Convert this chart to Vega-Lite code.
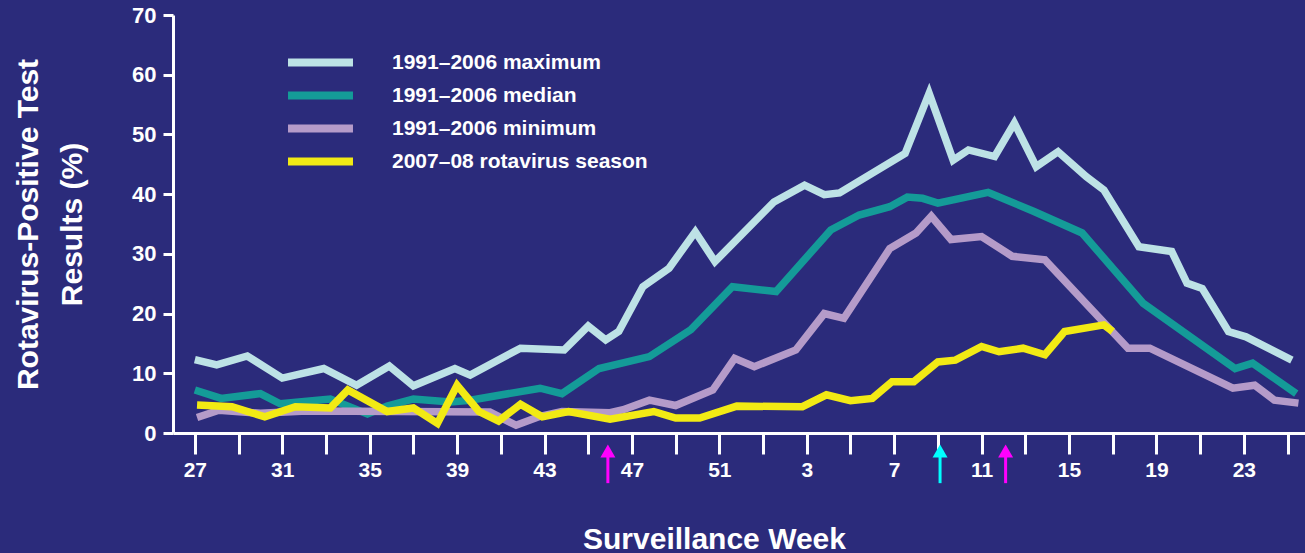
{
  "$schema": "https://vega.github.io/schema/vega-lite/v6.json",
  "width": 1132,
  "height": 418,
  "autosize": {"type": "none"},
  "padding": {"left": 173, "top": 15, "right": 0, "bottom": 120},
  "background": "#2b2b7b",
  "config": {"view": {"stroke": null}, "font": "Liberation Sans"},
  "datasets": {
    "series": [
      {"series": "1991–2006 maximum", "wk": 0, "pct": 12.3},
      {"series": "1991–2006 maximum", "wk": 1, "pct": 11.4},
      {"series": "1991–2006 maximum", "wk": 2.4, "pct": 12.9},
      {"series": "1991–2006 maximum", "wk": 4, "pct": 9.2},
      {"series": "1991–2006 maximum", "wk": 5.9, "pct": 10.8},
      {"series": "1991–2006 maximum", "wk": 7.4, "pct": 8.0},
      {"series": "1991–2006 maximum", "wk": 8.9, "pct": 11.2},
      {"series": "1991–2006 maximum", "wk": 10, "pct": 7.9},
      {"series": "1991–2006 maximum", "wk": 11.9, "pct": 10.8},
      {"series": "1991–2006 maximum", "wk": 12.6, "pct": 9.7},
      {"series": "1991–2006 maximum", "wk": 14.9, "pct": 14.2},
      {"series": "1991–2006 maximum", "wk": 16.9, "pct": 13.9},
      {"series": "1991–2006 maximum", "wk": 18, "pct": 17.9},
      {"series": "1991–2006 maximum", "wk": 18.8, "pct": 15.6},
      {"series": "1991–2006 maximum", "wk": 19.4, "pct": 17.0},
      {"series": "1991–2006 maximum", "wk": 20.5, "pct": 24.5},
      {"series": "1991–2006 maximum", "wk": 21.7, "pct": 27.6},
      {"series": "1991–2006 maximum", "wk": 22.9, "pct": 33.7},
      {"series": "1991–2006 maximum", "wk": 23.8, "pct": 28.7},
      {"series": "1991–2006 maximum", "wk": 26.5, "pct": 38.7},
      {"series": "1991–2006 maximum", "wk": 27.9, "pct": 41.5},
      {"series": "1991–2006 maximum", "wk": 28.8, "pct": 39.9},
      {"series": "1991–2006 maximum", "wk": 29.5, "pct": 40.2},
      {"series": "1991–2006 maximum", "wk": 32.5, "pct": 46.8},
      {"series": "1991–2006 maximum", "wk": 33.6, "pct": 56.9},
      {"series": "1991–2006 maximum", "wk": 34.7, "pct": 45.7},
      {"series": "1991–2006 maximum", "wk": 35.4, "pct": 47.4},
      {"series": "1991–2006 maximum", "wk": 36.6, "pct": 46.3},
      {"series": "1991–2006 maximum", "wk": 37.5, "pct": 51.9},
      {"series": "1991–2006 maximum", "wk": 38.5, "pct": 44.6},
      {"series": "1991–2006 maximum", "wk": 39.5, "pct": 47.1},
      {"series": "1991–2006 maximum", "wk": 40.8, "pct": 42.9},
      {"series": "1991–2006 maximum", "wk": 41.6, "pct": 40.7},
      {"series": "1991–2006 maximum", "wk": 43.2, "pct": 31.2},
      {"series": "1991–2006 maximum", "wk": 44.7, "pct": 30.4},
      {"series": "1991–2006 maximum", "wk": 45.4, "pct": 25.1},
      {"series": "1991–2006 maximum", "wk": 46.1, "pct": 24.2},
      {"series": "1991–2006 maximum", "wk": 47.3, "pct": 17.0},
      {"series": "1991–2006 maximum", "wk": 48.1, "pct": 16.1},
      {"series": "1991–2006 maximum", "wk": 50.2, "pct": 12.2},

      {"series": "1991–2006 median", "wk": 0, "pct": 7.2},
      {"series": "1991–2006 median", "wk": 1.2, "pct": 5.8},
      {"series": "1991–2006 median", "wk": 3, "pct": 6.6},
      {"series": "1991–2006 median", "wk": 3.9, "pct": 4.9},
      {"series": "1991–2006 median", "wk": 6.2, "pct": 5.7},
      {"series": "1991–2006 median", "wk": 7.9, "pct": 3.2},
      {"series": "1991–2006 median", "wk": 8.8, "pct": 4.5},
      {"series": "1991–2006 median", "wk": 10, "pct": 5.7},
      {"series": "1991–2006 median", "wk": 11.7, "pct": 5.2},
      {"series": "1991–2006 median", "wk": 12.6, "pct": 5.5},
      {"series": "1991–2006 median", "wk": 15.8, "pct": 7.5},
      {"series": "1991–2006 median", "wk": 16.8, "pct": 6.6},
      {"series": "1991–2006 median", "wk": 18.5, "pct": 10.8},
      {"series": "1991–2006 median", "wk": 20.8, "pct": 12.8},
      {"series": "1991–2006 median", "wk": 22.7, "pct": 17.3},
      {"series": "1991–2006 median", "wk": 24.6, "pct": 24.5},
      {"series": "1991–2006 median", "wk": 26.6, "pct": 23.7},
      {"series": "1991–2006 median", "wk": 29.1, "pct": 34.0},
      {"series": "1991–2006 median", "wk": 30.4, "pct": 36.5},
      {"series": "1991–2006 median", "wk": 31.8, "pct": 37.9},
      {"series": "1991–2006 median", "wk": 32.6, "pct": 39.5},
      {"series": "1991–2006 median", "wk": 33.3, "pct": 39.3},
      {"series": "1991–2006 median", "wk": 34.0, "pct": 38.5},
      {"series": "1991–2006 median", "wk": 36.3, "pct": 40.3},
      {"series": "1991–2006 median", "wk": 38.4, "pct": 37.1},
      {"series": "1991–2006 median", "wk": 40.6, "pct": 33.5},
      {"series": "1991–2006 median", "wk": 43.4, "pct": 21.7},
      {"series": "1991–2006 median", "wk": 47.6, "pct": 10.8},
      {"series": "1991–2006 median", "wk": 48.4, "pct": 11.7},
      {"series": "1991–2006 median", "wk": 50.4, "pct": 6.6},

      {"series": "1991–2006 minimum", "wk": 0.1, "pct": 2.6},
      {"series": "1991–2006 minimum", "wk": 1.1, "pct": 3.8},
      {"series": "1991–2006 minimum", "wk": 3, "pct": 3.3},
      {"series": "1991–2006 minimum", "wk": 5.1, "pct": 3.7},
      {"series": "1991–2006 minimum", "wk": 13.5, "pct": 3.5},
      {"series": "1991–2006 minimum", "wk": 14.7, "pct": 1.3},
      {"series": "1991–2006 minimum", "wk": 15.8, "pct": 2.8},
      {"series": "1991–2006 minimum", "wk": 16.8, "pct": 3.6},
      {"series": "1991–2006 minimum", "wk": 19, "pct": 3.4},
      {"series": "1991–2006 minimum", "wk": 19.6, "pct": 3.9},
      {"series": "1991–2006 minimum", "wk": 20.8, "pct": 5.5},
      {"series": "1991–2006 minimum", "wk": 22, "pct": 4.6},
      {"series": "1991–2006 minimum", "wk": 23.7, "pct": 7.2},
      {"series": "1991–2006 minimum", "wk": 24.7, "pct": 12.5},
      {"series": "1991–2006 minimum", "wk": 25.6, "pct": 11.1},
      {"series": "1991–2006 minimum", "wk": 27.5, "pct": 13.9},
      {"series": "1991–2006 minimum", "wk": 28.8, "pct": 20.0},
      {"series": "1991–2006 minimum", "wk": 29.7, "pct": 19.2},
      {"series": "1991–2006 minimum", "wk": 31.8, "pct": 30.9},
      {"series": "1991–2006 minimum", "wk": 33.0, "pct": 33.5},
      {"series": "1991–2006 minimum", "wk": 33.7, "pct": 36.3},
      {"series": "1991–2006 minimum", "wk": 34.6, "pct": 32.4},
      {"series": "1991–2006 minimum", "wk": 36.0, "pct": 32.9},
      {"series": "1991–2006 minimum", "wk": 37.4, "pct": 29.6},
      {"series": "1991–2006 minimum", "wk": 38.9, "pct": 29.0},
      {"series": "1991–2006 minimum", "wk": 42.7, "pct": 14.2},
      {"series": "1991–2006 minimum", "wk": 43.7, "pct": 14.2},
      {"series": "1991–2006 minimum", "wk": 47.5, "pct": 7.5},
      {"series": "1991–2006 minimum", "wk": 48.5, "pct": 8.0},
      {"series": "1991–2006 minimum", "wk": 49.4, "pct": 5.5},
      {"series": "1991–2006 minimum", "wk": 50.5, "pct": 5.0},

      {"series": "2007–08 rotavirus season", "wk": 0.1, "pct": 4.7},
      {"series": "2007–08 rotavirus season", "wk": 1.7, "pct": 4.4},
      {"series": "2007–08 rotavirus season", "wk": 3.2, "pct": 2.7},
      {"series": "2007–08 rotavirus season", "wk": 4.6, "pct": 4.4},
      {"series": "2007–08 rotavirus season", "wk": 6.2, "pct": 4.2},
      {"series": "2007–08 rotavirus season", "wk": 7.0, "pct": 7.2},
      {"series": "2007–08 rotavirus season", "wk": 8.8, "pct": 3.6},
      {"series": "2007–08 rotavirus season", "wk": 10.0, "pct": 4.2},
      {"series": "2007–08 rotavirus season", "wk": 11.1, "pct": 1.6},
      {"series": "2007–08 rotavirus season", "wk": 12.0, "pct": 8.0},
      {"series": "2007–08 rotavirus season", "wk": 13.0, "pct": 3.6},
      {"series": "2007–08 rotavirus season", "wk": 13.9, "pct": 2.0},
      {"series": "2007–08 rotavirus season", "wk": 14.9, "pct": 4.8},
      {"series": "2007–08 rotavirus season", "wk": 15.9, "pct": 2.7},
      {"series": "2007–08 rotavirus season", "wk": 17.1, "pct": 3.6},
      {"series": "2007–08 rotavirus season", "wk": 19.0, "pct": 2.3},
      {"series": "2007–08 rotavirus season", "wk": 21.0, "pct": 3.6},
      {"series": "2007–08 rotavirus season", "wk": 22.0, "pct": 2.5},
      {"series": "2007–08 rotavirus season", "wk": 23.1, "pct": 2.5},
      {"series": "2007–08 rotavirus season", "wk": 24.8, "pct": 4.5},
      {"series": "2007–08 rotavirus season", "wk": 27.8, "pct": 4.4},
      {"series": "2007–08 rotavirus season", "wk": 28.9, "pct": 6.4},
      {"series": "2007–08 rotavirus season", "wk": 30.0, "pct": 5.4},
      {"series": "2007–08 rotavirus season", "wk": 31.0, "pct": 5.8},
      {"series": "2007–08 rotavirus season", "wk": 31.9, "pct": 8.6},
      {"series": "2007–08 rotavirus season", "wk": 32.9, "pct": 8.6},
      {"series": "2007–08 rotavirus season", "wk": 34.0, "pct": 11.9},
      {"series": "2007–08 rotavirus season", "wk": 34.8, "pct": 12.2},
      {"series": "2007–08 rotavirus season", "wk": 36.0, "pct": 14.5},
      {"series": "2007–08 rotavirus season", "wk": 36.8, "pct": 13.6},
      {"series": "2007–08 rotavirus season", "wk": 37.9, "pct": 14.2},
      {"series": "2007–08 rotavirus season", "wk": 38.9, "pct": 13.1},
      {"series": "2007–08 rotavirus season", "wk": 39.8, "pct": 17.0},
      {"series": "2007–08 rotavirus season", "wk": 41.6, "pct": 18.1},
      {"series": "2007–08 rotavirus season", "wk": 42.0, "pct": 17.0}
    ],
    "arrows": [
      {"wk": 18.9, "kind": "A"},
      {"wk": 34.1, "kind": "B"},
      {"wk": 37.1, "kind": "A"}
    ]
  },
  "layer": [
    {
      "data": {"name": "series"},
      "mark": {"type": "line", "strokeWidth": 7.5, "clip": false},
      "encoding": {
        "x": {
          "field": "wk",
          "type": "quantitative",
          "scale": {"domain": [-1, 50.8], "nice": false, "zero": false},
          "axis": {
            "values": [0,1,2,3,4,5,6,7,8,9,10,11,12,13,14,15,16,17,18,19,20,21,22,23,24,25,26,27,28,29,30,31,32,33,34,35,36,37,38,39,40,41,42,43,44,45,46,47,48,49,50],
            "labelExpr": "datum.value % 4 === 0 ? '' + (datum.value + 27 <= 52 ? datum.value + 27 : datum.value - 25) : ''",
            "grid": false,
            "domainColor": "white",
            "domainWidth": 3,
            "tickColor": "white",
            "tickWidth": 3,
            "tickSize": 21,
            "labelColor": "white",
            "labelFont": "Liberation Sans",
            "labelFontWeight": "bold",
            "labelFontSize": 21,
            "labelPadding": 5,
            "labelOverlap": false,
            "labelFlush": false,
            "labelBound": false,
            "title": "Surveillance Week",
            "titleColor": "white",
            "titleFont": "Liberation Sans",
            "titleFontWeight": "bold",
            "titleFontSize": 30,
            "titleX": 541,
            "titleY": 115,
            "titleAlign": "center",
            "titleBaseline": "alphabetic",
            "encode": {"ticks": {"update": {"y2": {"signal": "datum.value % 4 === 0 ? 21 : 13"}}}}
          }
        },
        "y": {
          "field": "pct",
          "type": "quantitative",
          "scale": {"domain": [0, 70], "nice": false, "zero": false},
          "axis": {
            "values": [0, 10, 20, 30, 40, 50, 60, 70],
            "grid": false,
            "domainColor": "white",
            "domainWidth": 3,
            "tickColor": "white",
            "tickWidth": 3,
            "tickSize": 10,
            "labelColor": "white",
            "labelFont": "Liberation Sans",
            "labelFontWeight": "bold",
            "labelFontSize": 22,
            "labelPadding": 7,
            "labelBound": false,
            "labelFlush": false,
            "title": ["Rotavirus-Positive Test", "Results (%)"],
            "titleColor": "white",
            "titleFont": "Liberation Sans",
            "titleFontWeight": "bold",
            "titleFontSize": 30,
            "titleLineHeight": 44,
            "titleAngle": -90,
            "titleX": -145,
            "titleY": 209,
            "titleAlign": "center",
            "titleBaseline": "middle"
          }
        },
        "color": {
          "field": "series",
          "type": "nominal",
          "scale": {
            "domain": ["1991–2006 maximum", "1991–2006 median", "1991–2006 minimum", "2007–08 rotavirus season"],
            "range": ["#bde2e6", "#149b98", "#b59bc9", "#f2ea14"]
          },
          "legend": {
            "orient": "none",
            "legendX": 135,
            "legendY": 35,
            "title": null,
            "padding": 0,
            "symbolType": "M-4,0H4",
            "symbolSize": 264,
            "symbolStrokeWidth": 8,
            "symbolOpacity": 1,
            "labelColor": "white",
            "labelFont": "Liberation Sans",
            "labelFontWeight": "bold",
            "labelFontSize": 21,
            "labelOffset": 59,
            "labelLimit": 600,
            "rowPadding": 0
          }
        }
      }
    },
    {
      "data": {"name": "arrows"},
      "mark": {"type": "rule", "strokeWidth": 3, "clip": false},
      "encoding": {
        "x": {"field": "wk", "type": "quantitative"},
        "y": {"datum": -3.8},
        "y2": {"datum": -8.4},
        "stroke": {
          "field": "kind",
          "type": "nominal",
          "scale": {"domain": ["A", "B"], "range": ["#ff00ff", "#00ffff"]},
          "legend": null
        }
      }
    },
    {
      "data": {"name": "arrows"},
      "mark": {"type": "point", "shape": "triangle-up", "size": 225, "filled": true, "opacity": 1, "strokeWidth": 0, "clip": false},
      "encoding": {
        "x": {"field": "wk", "type": "quantitative"},
        "y": {"datum": -3.0},
        "fill": {
          "field": "kind",
          "type": "nominal",
          "scale": {"domain": ["A", "B"], "range": ["#ff00ff", "#00ffff"]},
          "legend": null
        }
      }
    }
  ]
}
